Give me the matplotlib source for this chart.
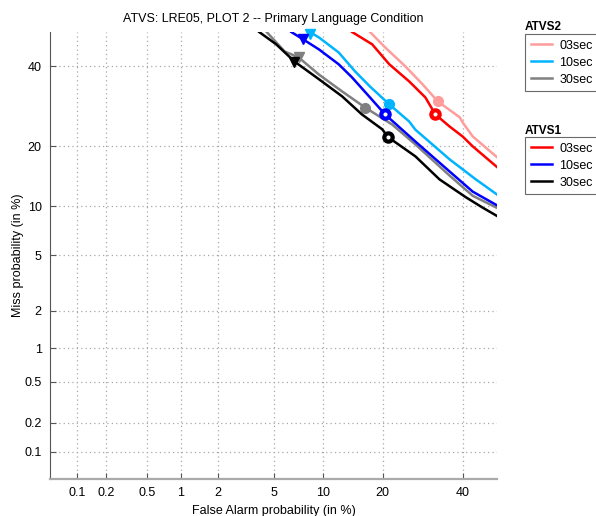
import math
from statistics import NormalDist
import matplotlib
matplotlib.use("Agg")
import matplotlib.pyplot as plt
import numpy as np

plt.rcParams['font.family'] = ['Liberation Sans', 'DejaVu Sans']

# DET curves, false alarm % / miss %
atvs2_03_fa = [17.5, 20.5, 25.0, 29.2, 33.1, 39.2, 40.0, 42.9, 50.8]
atvs2_03_miss = [50.0, 45.5, 40.0, 35.0, 30.5, 26.5, 25.3, 22.1, 17.4]
atvs2_10_fa = [8.4, 9.5, 12.2, 14.8, 17.5, 21.4, 25.9, 27.4, 36.4, 43.8, 50.8]
atvs2_10_miss = [50.0, 48.4, 44.0, 38.6, 34.4, 29.7, 25.5, 23.6, 17.4, 13.9, 11.3]
atvs2_30_fa = [4.5, 5.9, 7.2, 9.5, 12.7, 16.6, 22.0, 27.4, 36.4, 42.9, 50.8]
atvs2_30_miss = [50.0, 44.3, 42.6, 37.7, 33.1, 28.9, 24.8, 20.4, 14.5, 11.4, 9.6]

atvs1_03_fa = [14.3, 17.9, 21.4, 25.9, 29.9, 32.5, 36.4, 40.0, 42.9, 50.8]
atvs1_03_miss = [50.0, 46.4, 40.6, 35.8, 31.5, 27.2, 24.3, 22.1, 20.0, 15.6]
atvs1_10_fa = [6.5, 7.7, 9.5, 12.2, 14.3, 17.3, 20.5, 27.4, 36.4, 42.9, 50.8]
atvs1_10_miss = [50.0, 47.8, 44.9, 40.6, 36.9, 31.8, 27.2, 21.0, 15.2, 12.0, 9.9]
atvs1_30_fa = [4.0, 5.2, 6.8, 9.5, 12.7, 16.0, 19.9, 21.2, 27.4, 33.6, 40.9, 45.8, 50.8]
atvs1_30_miss = [50.0, 46.4, 41.4, 36.4, 31.8, 27.2, 23.7, 21.9, 18.0, 13.9, 11.2, 9.8, 8.6]

# operating points: (fa, miss) for triangle and circle
tri_pts = {'atvs2_30': (7.2, 42.6), 'atvs2_10': (8.4, 49.5),
           'atvs1_30': (6.8, 41.4), 'atvs1_10': (7.7, 47.8)}
circ_pts = {'atvs2_03': (33.1, 30.5), 'atvs2_10': (21.4, 29.7), 'atvs2_30': (16.6, 28.9),
            'atvs1_03': (32.5, 27.2), 'atvs1_10': (20.5, 27.2), 'atvs1_30': (21.2, 21.9)}

ticks = [0.1, 0.2, 0.5, 1, 2, 5, 10, 20, 40]
tick_labels = ['0.1', '0.2', '0.5', '1', '2', '5', '10', '20', '40']

_nd = NormalDist()
_ppf = np.vectorize(lambda p: _nd.inv_cdf(min(max(p / 100.0, 1e-9), 1 - 1e-9)), otypes=[float])
_cdf = np.vectorize(lambda z: 100.0 * 0.5 * (1 + math.erf(z / math.sqrt(2))), otypes=[float])


def fwd(p):
    return _ppf(np.asarray(p, dtype=float))


def inv(z):
    return _cdf(np.asarray(z, dtype=float))


fig = plt.figure(figsize=(5.96, 5.16), dpi=100)
ax = fig.add_axes([50 / 596, 1 - 479 / 516, 447 / 596, 447 / 516])
ax.set_xscale('function', functions=(fwd, inv))
ax.set_yscale('function', functions=(fwd, inv))

series = [
    ('atvs2_03', atvs2_03_fa, atvs2_03_miss, '#ff9c9c', True),
    ('atvs2_10', atvs2_10_fa, atvs2_10_miss, '#00b4ff', True),
    ('atvs2_30', atvs2_30_fa, atvs2_30_miss, '#808080', True),
    ('atvs1_03', atvs1_03_fa, atvs1_03_miss, '#ff0000', False),
    ('atvs1_10', atvs1_10_fa, atvs1_10_miss, '#0000ff', False),
    ('atvs1_30', atvs1_30_fa, atvs1_30_miss, '#000000', False),
]
lines = {}
for key, fa, miss, col, filled in series:
    lines[key], = ax.plot(fa, miss, color=col, lw=1.8, label=key[-2:] + 'sec')
    if key in tri_pts:
        tx, ty = tri_pts[key]
        ax.plot([tx], [ty], 'v', color=col, ms=7, clip_on=False)
    cx, cy = circ_pts[key]
    if filled:
        ax.plot([cx], [cy], 'o', color=col, ms=7)
    else:
        ax.plot([cx], [cy], 'o', mfc='white', mec=col, mew=3, ms=6)

ax.set_xlim(0.05, 50)
ax.set_ylim(0.05, 50)
ax.set_xticks(ticks)
ax.set_xticklabels(tick_labels)
ax.set_yticks(ticks)
ax.set_yticklabels(tick_labels)
ax.minorticks_off()
ax.grid(True, ls=(0, (1, 2.5)), color='#a8a8a8', lw=0.9)
ax.tick_params(direction='in', length=4, labelsize=9, color='#555555', pad=6)
for s in ['top', 'right']:
    ax.spines[s].set_visible(False)
ax.spines['left'].set_color('#555555')
ax.spines['bottom'].set_color('#aaaaaa')
ax.spines['bottom'].set_linewidth(1.6)

ax.set_title('ATVS: LRE05, PLOT 2 -- Primary Language Condition', fontsize=9, pad=7.5)
ax.set_xlabel('False Alarm probability (in %)', fontsize=9, labelpad=4)
ax.set_ylabel('Miss probability (in %)', fontsize=9, labelpad=0)

leg_kw = dict(loc='upper left', fontsize=9, frameon=True, fancybox=False,
              edgecolor='#444444', handlelength=1.7, handletextpad=0.6,
              labelspacing=0.4, borderaxespad=0, borderpad=0.45)
leg2 = fig.legend([lines['atvs2_03'], lines['atvs2_10'], lines['atvs2_30']],
                  ['03sec', '10sec', '30sec'], bbox_to_anchor=(525 / 596, 1 - 34 / 516), **leg_kw)
leg1 = fig.legend([lines['atvs1_03'], lines['atvs1_10'], lines['atvs1_30']],
                  ['03sec', '10sec', '30sec'], bbox_to_anchor=(525 / 596, 1 - 137 / 516), **leg_kw)
for lg in (leg1, leg2):
    lg.get_frame().set_linewidth(0.8)
fig.text(525 / 596, 1 - 27 / 516, 'ATVS2', fontsize=8.5, fontweight='bold', va='center', ha='left')
fig.text(525 / 596, 1 - 131 / 516, 'ATVS1', fontsize=8.5, fontweight='bold', va='center', ha='left')

fig.savefig('out.png', dpi=100)
